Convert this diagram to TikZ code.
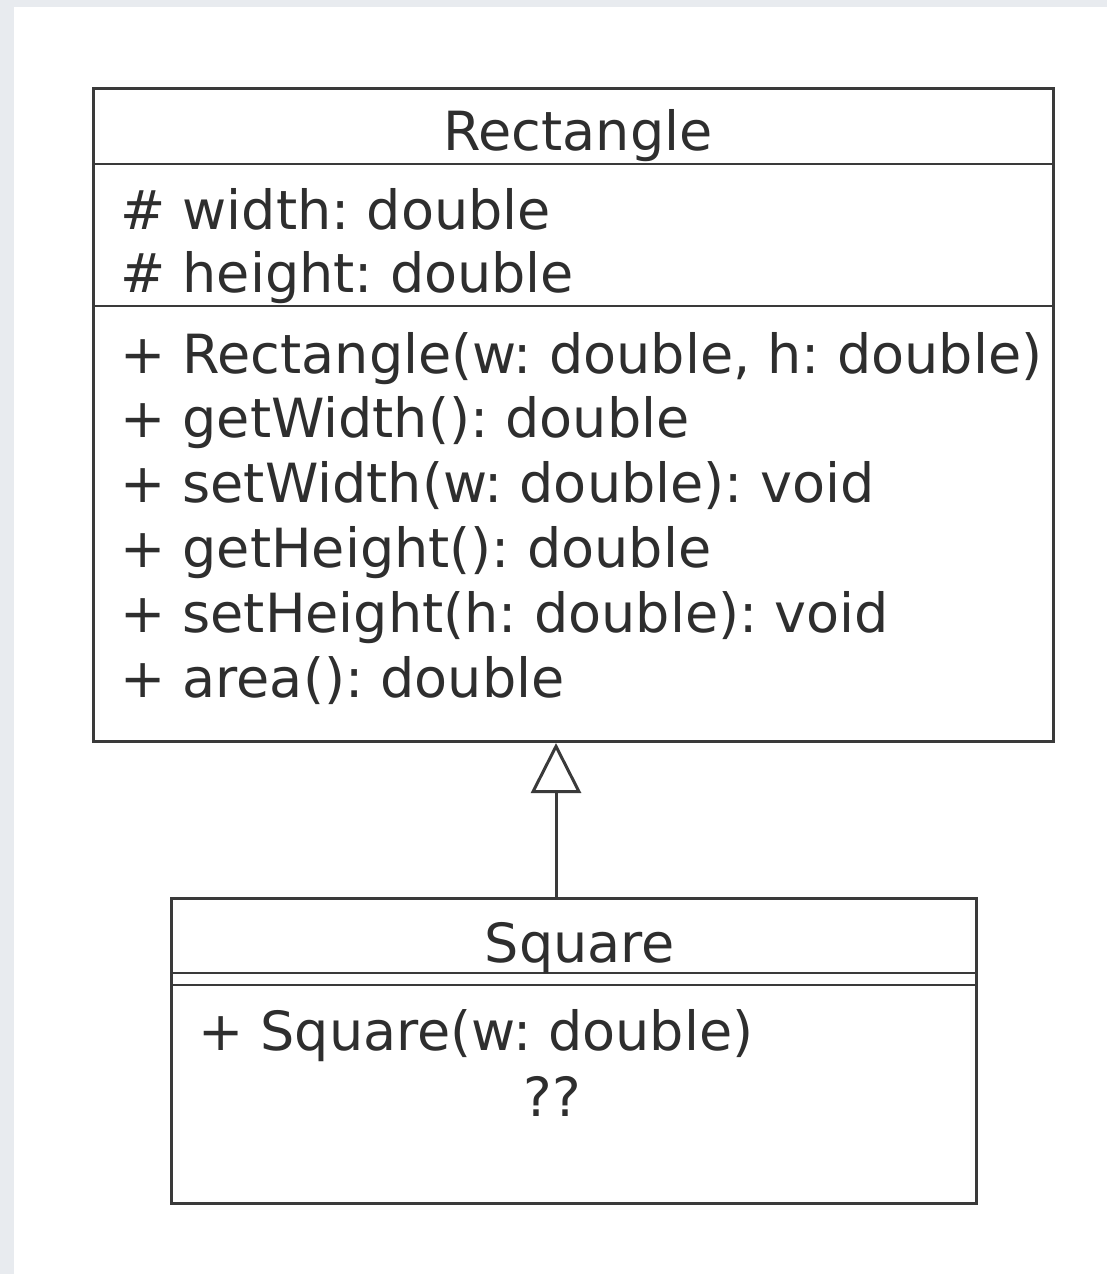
\documentclass[tikz,border=0pt]{standalone}
\usepackage{fontspec}
\setmainfont{DejaVu Sans}
\usetikzlibrary{arrows.meta}
\definecolor{bgray}{HTML}{E8EBEF}
\definecolor{ink}{HTML}{3A3A3A}
\definecolor{txt}{HTML}{2E2E2E}
\begin{document}
\frenchspacing
\begin{tikzpicture}[x=1pt,y=-1pt,
  umlbox/.style={draw=ink, line width=3pt, fill=white, inner sep=0pt, anchor=north west},
  sepline/.style={draw=ink, line width=2.6pt},
  lbl/.style={inner sep=0pt, anchor=base west, text=txt, font=\fontsize{54}{65}\selectfont\frenchspacing},
  ttl/.style={inner sep=0pt, anchor=base, text=txt, font=\fontsize{54}{65}\selectfont\frenchspacing},
  inherit/.style={draw=ink, line width=3pt, -{Triangle[open, length=50pt, width=50pt, line width=3pt]}}]
\useasboundingbox (0,0) rectangle (1107,1274);
\fill[bgray] (0,0) rectangle (1107,1274);
\fill[white] (14,7) rectangle (1107,1274);
% Rectangle class
\node[umlbox, minimum width=960pt, minimum height=653pt] (rect) at (92,87) {};
\draw[sepline] (92,164) -- (1052,164);
\draw[sepline] (92,306) -- (1052,306);
\node[ttl] (rname) at (578,150) {Rectangle};
\node[lbl] (a1) at (120,229) {\# width: double};
\node[lbl] (a2) at (120,292) {\# height: double};
\node[lbl] (m1) at (120,373) {+ Rectangle(w: double, h: double)};
\node[lbl] (m2) at (120,437) {+ getWidth(): double};
\node[lbl] (m3) at (120,502) {+ setWidth(w: double): void};
\node[lbl] (m4) at (120,567) {+ getHeight(): double};
\node[lbl] (m5) at (120,632) {+ setHeight(h: double): void};
\node[lbl] (m6) at (120,697) {+ area(): double};
% Square class
\node[umlbox, minimum width=805pt, minimum height=305pt] (sq) at (170,897) {};
\draw[sepline] (170,973) -- (975,973);
\draw[sepline] (170,985) -- (975,985);
\node[ttl] (sname) at (580,962) {Square};
\node[lbl] (s1) at (198,1050) {+ Square(w: double)};
\node[ttl] (s2) at (552,1116) {??};
% inheritance
\coordinate (stem) at (556,0);
\draw[inherit] (sq.north -| stem) -- (rect.south -| stem);
\end{tikzpicture}
\end{document}
